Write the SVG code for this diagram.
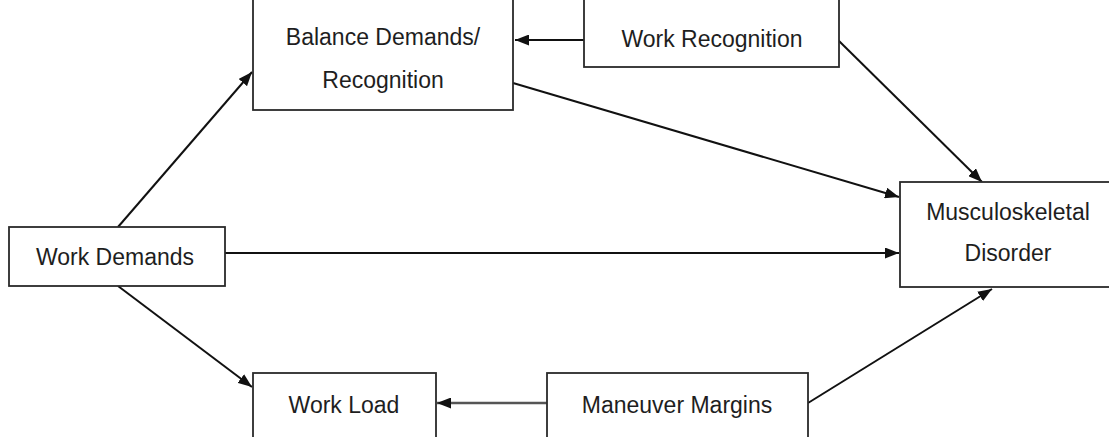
<svg xmlns="http://www.w3.org/2000/svg" width="1109" height="437" viewBox="0 0 1109 437">
  <style>
    .box { fill: #ffffff; stroke: #2a2a2a; stroke-width: 1.8; }
    .label { font-family: "Liberation Sans", Arial, sans-serif; font-size: 23px; fill: #1e1e1e; text-anchor: middle; dominant-baseline: central; }
    .edge { fill: none; stroke: #111111; stroke-width: 2; marker-end: url(#arrow); }
    .edge.soft { stroke: #555555; stroke-width: 2.6; }
  </style>
  <defs>
    <!-- filled triangular arrowhead, 14 long x 11 wide -->
    <marker id="arrow" viewBox="0 0 14 11" refX="14" refY="5.5" markerWidth="14" markerHeight="11" markerUnits="userSpaceOnUse" orient="auto">
      <path d="M0,0 L14,5.5 L0,11 z" fill="#111111"/>
    </marker>
  </defs>

  <rect width="1109" height="437" fill="#ffffff"/>

  <!-- connectors -->
  <g id="connectors">
    <path class="edge" d="M584,40 L515,40"/>
    <path class="edge" d="M118,227 L252,72"/>
    <path class="edge" d="M118,286 L252,387"/>
    <path class="edge" d="M225,253 L899,253"/>
    <path class="edge" d="M513,83 L899,197"/>
    <path class="edge" d="M838,40 L982,182"/>
    <path class="edge" d="M808,403 L992,289"/>
    <path class="edge soft" d="M547,403 L437,403"/>
  </g>

  <!-- nodes -->
  <g id="balance">
    <rect class="box" x="253" y="-5" width="260" height="115"/>
    <text class="label" x="383" y="37">Balance Demands/</text>
    <text class="label" x="383" y="80">Recognition</text>
  </g>
  <g id="work-recognition">
    <rect class="box" x="584" y="-5" width="255" height="72"/>
    <text class="label" x="712" y="39">Work Recognition</text>
  </g>
  <g id="work-demands">
    <rect class="box" x="9" y="227" width="216" height="59"/>
    <text class="label" x="115" y="257">Work Demands</text>
  </g>
  <g id="msd">
    <rect class="box" x="900" y="182" width="220" height="105"/>
    <text class="label" x="1008" y="212">Musculoskeletal</text>
    <text class="label" x="1008" y="253">Disorder</text>
  </g>
  <g id="work-load">
    <rect class="box" x="253" y="373" width="183" height="75"/>
    <text class="label" x="344" y="405">Work Load</text>
  </g>
  <g id="maneuver-margins">
    <rect class="box" x="547" y="373" width="261" height="75"/>
    <text class="label" x="677" y="405">Maneuver Margins</text>
  </g>
</svg>
